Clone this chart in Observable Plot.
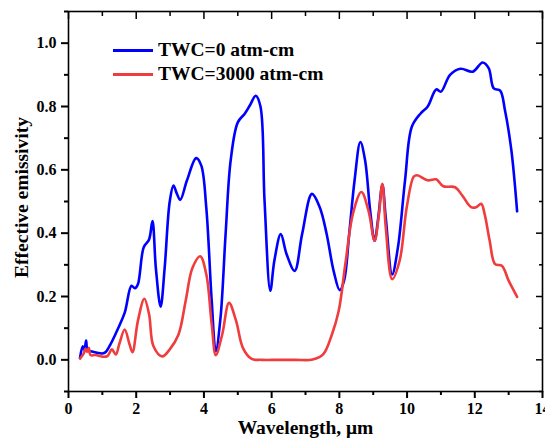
<!DOCTYPE html>
<html><head><meta charset="utf-8">
<script src="https://cdn.jsdelivr.net/npm/d3@7"></script>
<script src="https://cdn.jsdelivr.net/npm/@observablehq/plot@0.6"></script>
<style>
body{margin:0;background:#fff;}
#chart{position:relative;width:545px;height:440px;font-family:"Liberation Serif","Times New Roman",serif;font-weight:bold;}
#legend{position:absolute;left:113px;top:38px;font-size:19.5px;line-height:24.4px;color:#000;}
.item{display:flex;align-items:center;white-space:nowrap;}
.sw{width:40px;height:2.7px;margin-right:5px;}
</style></head><body><div id="chart"><div id="legend"></div></div>
<script>
// ---- data ----
const seriesNames = ["TWC=0 atm-cm", "TWC=3000 atm-cm"];
const seriesColors = ["#0000ff", "#f03c3c"];

const blueX = [0.34,0.42,0.47,0.52,0.56,0.62,0.7,0.85,1.0,1.1,1.24,1.45,1.66,1.86,1.96,2.05,2.22,2.38,2.48,2.58,2.72,2.84,2.99,3.10,3.2,3.3,3.5,3.77,3.92,4.07,4.23,4.35,4.49,4.64,4.79,5.0,5.21,5.36,5.53,5.67,5.79,5.96,6.08,6.27,6.44,6.68,6.9,7.19,7.42,7.62,7.83,8.01,8.14,8.29,8.45,8.62,8.76,8.91,9.04,9.15,9.27,9.37,9.56,9.73,9.94,10.14,10.4,10.61,10.86,11.0,11.27,11.58,11.94,12.23,12.41,12.56,12.75,12.89,13.08,13.25];
const blueY = [0.006,0.043,0.032,0.061,0.03,0.028,0.026,0.022,0.02,0.025,0.049,0.096,0.149,0.234,0.226,0.239,0.355,0.38,0.438,0.29,0.168,0.29,0.50,0.55,0.525,0.505,0.567,0.637,0.614,0.48,0.186,0.027,0.133,0.397,0.63,0.75,0.778,0.804,0.834,0.80,0.503,0.218,0.313,0.397,0.334,0.281,0.397,0.524,0.482,0.40,0.281,0.22,0.25,0.397,0.567,0.688,0.63,0.471,0.376,0.45,0.553,0.45,0.27,0.355,0.567,0.736,0.778,0.80,0.854,0.847,0.90,0.919,0.91,0.939,0.921,0.857,0.85,0.789,0.662,0.469];

const redX = [0.34,0.45,0.5,0.55,0.6,0.65,0.8,1.0,1.15,1.28,1.4,1.5,1.66,1.8,1.89,2.05,2.24,2.38,2.51,2.77,2.99,3.25,3.46,3.66,3.89,4.07,4.23,4.35,4.54,4.74,4.95,5.15,5.41,5.7,6.2,6.7,7.21,7.52,7.78,7.98,8.19,8.40,8.65,8.86,9.04,9.16,9.27,9.37,9.56,9.78,9.99,10.2,10.3,10.61,10.86,11.07,11.42,11.63,11.89,12.04,12.19,12.29,12.44,12.6,12.8,13.0,13.25];
const redY = [0.004,0.02,0.035,0.025,0.038,0.015,0.015,0.01,0.012,0.033,0.017,0.05,0.096,0.05,0.024,0.123,0.193,0.144,0.043,0.011,0.033,0.08,0.186,0.29,0.327,0.27,0.112,0.015,0.08,0.18,0.123,0.038,0.003,0,0,0,0.001,0.017,0.08,0.154,0.313,0.461,0.53,0.471,0.376,0.45,0.556,0.419,0.255,0.313,0.482,0.579,0.583,0.567,0.57,0.548,0.545,0.519,0.482,0.482,0.493,0.461,0.376,0.302,0.297,0.25,0.199];

const xDomain = [0, 14];
const yDomain = [-0.1, 1.1];
const xMajor = [0, 2, 4, 6, 8, 10, 12, 14];
const xMinor = [1, 3, 5, 7, 9, 11, 13];
const yMajor = [0, 0.2, 0.4, 0.6, 0.8, 1.0];
const yMinor = [-0.1, 0.1, 0.3, 0.5, 0.7, 0.9, 1.1];
const xTitle = "Wavelength, μm";
const yTitle = "Effective emissivity";

const blue = blueX.map((x, i) => ({x, y: blueY[i]}));
const red = redX.map((x, i) => ({x, y: redY[i]}));

const chart = Plot.plot({
  width: 545, height: 440,
  marginLeft: 68, marginRight: 3, marginTop: 11, marginBottom: 49,
  style: {fontFamily: "'Liberation Serif','Times New Roman',serif", fontWeight: "bold", fontSize: "16px", background: "white", color: "black", overflow: "visible"},
  x: {domain: xDomain},
  y: {domain: yDomain},
  marks: [
    // bottom (outward)
    Plot.axisX({anchor: "bottom", ticks: xMajor, tickSize: 7, tickPadding: 4, tickFormat: d => String(d), label: null, strokeWidth: 2}),
    Plot.axisX({anchor: "bottom", ticks: xMinor, tickSize: 4, fill: "none", label: null, strokeWidth: 2}),
    // top (inward)
    Plot.axisX({anchor: "top", ticks: xMajor, tickSize: 7, dy: 7, fill: "none", label: null, strokeWidth: 1.5}),
    Plot.axisX({anchor: "top", ticks: xMinor, tickSize: 4, dy: 4, fill: "none", label: null, strokeWidth: 1.5}),
    // left (outward)
    Plot.axisY({anchor: "left", ticks: yMajor, tickSize: 7, tickPadding: 5, tickFormat: d3.format(".1f"), label: null, strokeWidth: 2}),
    Plot.axisY({anchor: "left", ticks: yMinor, tickSize: 4, fill: "none", label: null, strokeWidth: 2}),
    // right (inward)
    Plot.axisY({anchor: "right", ticks: yMajor, tickSize: 7, dx: -7, fill: "none", label: null, strokeWidth: 1.5}),
    Plot.axisY({anchor: "right", ticks: yMinor, tickSize: 4, dx: -4, fill: "none", label: null, strokeWidth: 1.5}),
    Plot.frame({strokeWidth: 1.6}),
    Plot.line(blue, {x: "x", y: "y", stroke: seriesColors[0], strokeWidth: 2.6, curve: "catmull-rom"}),
    Plot.line(red, {x: "x", y: "y", stroke: seriesColors[1], strokeWidth: 2.6, curve: "catmull-rom"}),
    Plot.text([xTitle], {frameAnchor: "bottom", lineAnchor: "middle", textAnchor: "middle", dy: 36, fontSize: 19.5, fontWeight: "bold"}),
    Plot.text([yTitle], {frameAnchor: "left", textAnchor: "middle", lineAnchor: "middle", rotate: -90, dx: -47, dy: -4, fontSize: 19.5, fontWeight: "bold"})
  ]
});
const host = document.getElementById("chart");
host.insertBefore(chart, host.firstChild);

const legend = document.getElementById("legend");
seriesNames.forEach((name, i) => {
  const row = document.createElement("div");
  row.className = "item";
  const sw = document.createElement("span");
  sw.className = "sw";
  sw.style.background = seriesColors[i];
  const t = document.createElement("span");
  t.textContent = name;
  row.appendChild(sw); row.appendChild(t);
  legend.appendChild(row);
});
</script>
</body></html>
